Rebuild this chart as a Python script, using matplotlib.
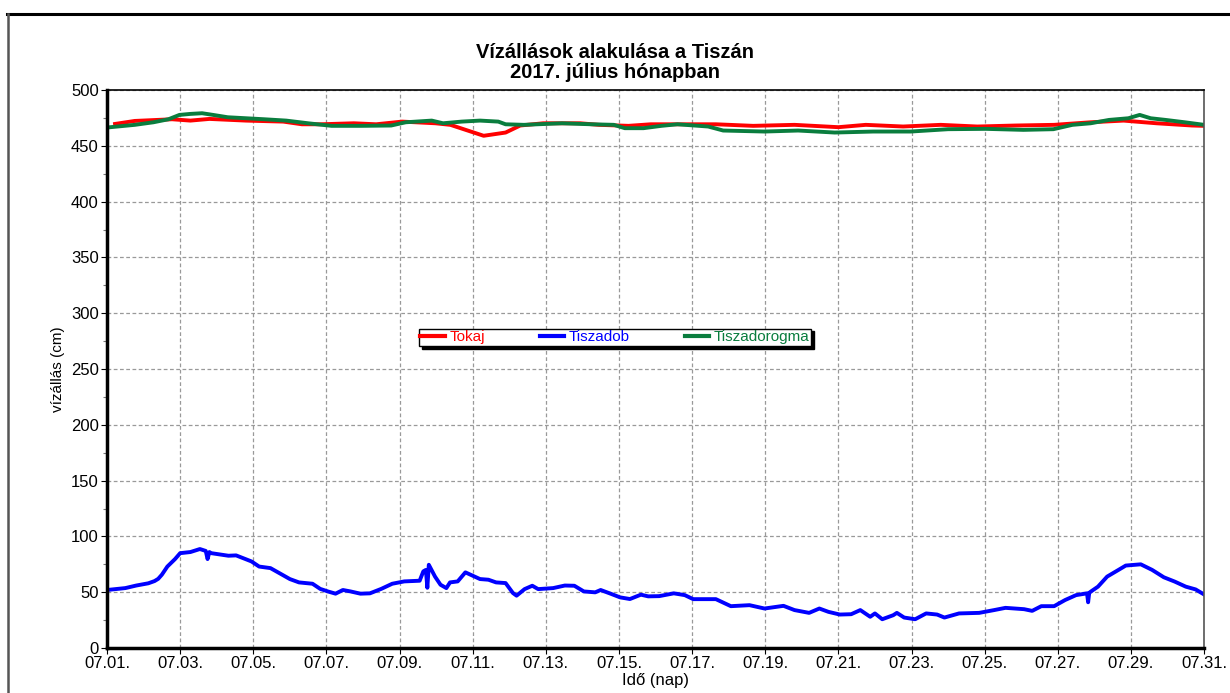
import matplotlib
matplotlib.use("Agg")
import matplotlib.pyplot as plt
from matplotlib.lines import Line2D
from matplotlib.ticker import MultipleLocator

plt.rcParams['font.family'] = ['Liberation Sans', 'DejaVu Sans']

# ---- data (x = days since 07.01. 00:00) ----
tokaj_x = [0.22, 0.76, 1.78, 2.28, 2.8, 3.8, 4.82, 5.33, 5.84, 6.75, 7.36, 8.07, 8.98, 9.39,
           10.3, 10.9, 11.3, 11.93, 12.94, 13.45, 14.26, 14.87, 15.6, 16.65, 17.67, 18.8,
           20.0, 20.75, 21.77, 22.8, 23.8, 24.85, 25.9, 26.9, 27.8, 28.7, 29.67, 30.0]
tokaj_y = [469.6, 472.3, 473.8, 472.6, 474.1, 472.6, 471.7, 469.3, 469.3, 470.2, 469.3, 471.7,
           470.2, 468.8, 459.0, 461.9, 468.2, 470.2, 470.2, 468.8, 467.9, 469.3, 469.3, 469.3,
           467.9, 468.8, 466.7, 468.8, 467.3, 468.8, 467.3, 468.2, 468.8, 471.1, 472.6, 470.2,
           468.2, 467.9]

dob_x = [0.0, 0.5, 0.8, 1.13, 1.3, 1.4, 1.5, 1.65, 1.86, 2.0, 2.28, 2.54, 2.7, 2.75, 2.8, 2.85,
         3.32, 3.53, 3.95, 4.16, 4.47, 4.79, 5.0, 5.25, 5.62, 5.83, 6.04, 6.25, 6.45, 6.66,
         6.93, 7.19, 7.5, 7.8, 8.13, 8.55, 8.65, 8.72, 8.76, 8.8, 8.97, 9.12, 9.28, 9.38,
         9.59, 9.8, 10.0, 10.2, 10.43, 10.64, 10.9, 11.1, 11.2, 11.42, 11.63, 11.79, 12.2,
         12.52, 12.78, 13.04, 13.35, 13.5, 13.77, 14.03, 14.3, 14.6, 14.8, 15.1, 15.5, 15.8,
         16.03, 16.65, 17.06, 17.57, 17.98, 18.5, 18.8, 19.2, 19.48, 19.73, 20.04, 20.35, 20.6,
         20.87, 21.0, 21.2, 21.5, 21.6, 21.8, 22.1, 22.4, 22.7, 22.9, 23.3, 23.85, 24.26, 24.57,
         25.08, 25.3, 25.55, 25.9, 26.2, 26.5, 26.8, 26.83, 26.86, 26.9, 27.1, 27.35, 27.66,
         27.86, 28.27, 28.58, 28.9, 29.2, 29.5, 29.77, 30.0]
dob_y = [52.0, 53.7, 56.0, 58.0, 60.0, 62.0, 65.7, 73.0, 79.7, 85.0, 86.0, 88.7, 87.0, 79.7,
         86.0, 85.0, 82.7, 83.0, 77.6, 73.0, 71.6, 65.7, 61.8, 58.8, 57.6, 53.0, 50.7, 48.7,
         52.0, 50.7, 48.7, 49.0, 53.0, 57.6, 59.7, 60.3, 68.7, 70.0, 54.0, 74.6, 64.0, 56.7,
         53.7, 58.8, 59.7, 67.8, 64.8, 61.8, 61.2, 58.8, 58.2, 49.3, 46.9, 52.8, 55.8, 52.8,
         53.7, 56.0, 55.8, 50.7, 49.9, 52.0, 48.7, 45.4, 43.9, 47.8, 46.3, 46.5, 49.0, 47.4,
         43.8, 43.8, 37.5, 38.4, 35.4, 37.8, 34.0, 31.5, 35.4, 32.4, 30.0, 30.3, 34.0, 28.0,
         31.0, 25.8, 29.4, 31.5, 27.3, 25.8, 31.0, 30.0, 27.3, 31.0, 31.5, 34.0, 36.0, 34.8,
         33.3, 37.5, 37.5, 43.0, 47.4, 49.0, 41.0, 49.5, 50.5, 55.0, 64.0, 70.0, 73.9, 75.0,
         70.0, 63.4, 59.5, 55.0, 52.5, 48.0]

dor_x = [0.0, 0.76, 1.27, 1.68, 1.98, 2.28, 2.6, 2.9, 3.3, 3.8, 4.3, 4.9, 5.5, 6.14, 6.95,
         7.77, 8.17, 8.88, 9.19, 9.7, 10.2, 10.7, 10.9, 11.4, 12.44, 13.25, 13.86, 14.16,
         14.67, 15.16, 15.6, 16.44, 16.85, 17.98, 18.9, 19.9, 20.95, 21.98, 23.0, 24.03,
         25.06, 25.88, 26.4, 26.9, 27.4, 27.93, 28.24, 28.54, 28.95, 29.47, 30.0]
dor_y = [466.4, 468.8, 471.1, 473.8, 477.7, 478.6, 479.2, 477.7, 475.6, 474.7, 473.8, 472.6,
         470.2, 467.9, 467.9, 468.2, 471.1, 472.6, 470.2, 471.7, 472.6, 471.7, 469.3, 468.8,
         470.2, 469.3, 468.8, 465.8, 465.8, 467.9, 469.3, 467.3, 463.7, 462.8, 463.7, 461.9,
         462.8, 462.8, 464.9, 465.2, 464.3, 464.9, 468.8, 470.2, 473.2, 474.7, 477.7, 474.7,
         473.2, 471.1, 468.8]

series_names = ["Tokaj", "Tiszadob", "Tiszadorogma"]
series_colors = ["#ff0000", "#0000ff", "#0a7d3e"]

tick_days = list(range(0, 31, 2))
tick_labels = ["07.%02d." % (d + 1) for d in tick_days]

title = "Vízállások alakulása a Tiszán\n2017. július hónapban"
ylabel = "vízállás (cm)"
xlabel = "Idő (nap)"

# ---- figure ----
fig = plt.figure(figsize=(12.30, 6.93), dpi=100)
ax = fig.add_axes([0.087, 0.0649, 0.8919, 0.8052])

for xs, ys, name, col in zip([tokaj_x, dob_x, dor_x], [tokaj_y, dob_y, dor_y],
                             series_names, series_colors):
    ax.plot(xs, ys, color=col, lw=2.8, label=name, solid_joinstyle='round')

ax.set_xlim(0, 30)
ax.set_ylim(0, 500)
ax.set_xticks(tick_days)
ax.set_xticklabels(tick_labels)
ax.yaxis.set_major_locator(MultipleLocator(50))
ax.yaxis.set_minor_locator(MultipleLocator(25))
ax.tick_params(axis='both', which='major', direction='out', length=4, width=0.8,
               labelsize=12, colors='black', pad=2)
ax.tick_params(axis='y', which='minor', direction='out', length=3, width=0.8, color='#777777')
ax.grid(True, which='major', linestyle=(0, (3, 2)), color='#999999', lw=0.9)

ax.spines['left'].set_linewidth(2.5)
ax.spines['bottom'].set_linewidth(2.5)
ax.spines['top'].set_linewidth(1.2)
ax.spines['right'].set_linewidth(1.2)
ax.spines['right'].set_color('#555555')

ax.set_ylabel(ylabel, fontsize=11, labelpad=4)
ax.set_xlabel(xlabel, fontsize=12, labelpad=1)
fig.text(0.5, 0.910, title, ha='center', va='center', fontsize=14.5, fontweight='bold',
         linespacing=1.05)

leg = ax.legend(loc='center', bbox_to_anchor=(0.463, 0.557), ncol=3, fontsize=11,
                frameon=True, fancybox=False, edgecolor='black', framealpha=1,
                handlelength=1.6, handletextpad=0.3, columnspacing=3.6, borderpad=0.1,
                borderaxespad=0, shadow={'color': 'black', 'alpha': 1})
leg.get_frame().set_linewidth(1.0)
for txt, col in zip(leg.get_texts(), series_colors):
    txt.set_color(col)
for h in leg.legend_handles:
    h.set_linewidth(3)

# outer frame lines
fig.add_artist(Line2D([7 / 1230, 1.0], [1 - 14 / 693, 1 - 14 / 693], color='black', lw=2.2,
                      transform=fig.transFigure))
fig.add_artist(Line2D([8 / 1230, 8 / 1230], [1 - 14 / 693, 0], color='#555555', lw=1.8,
                      transform=fig.transFigure))

fig.savefig("out.png", dpi=100)
